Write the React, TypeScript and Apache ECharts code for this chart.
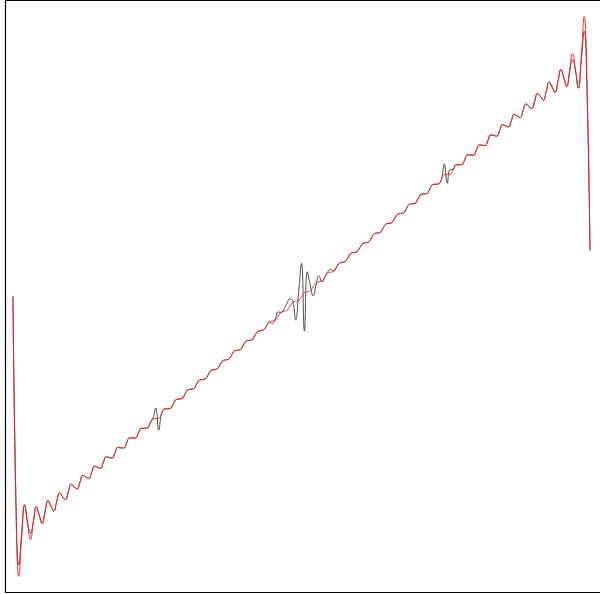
import { useEffect, useRef } from "react";
import * as echarts from "echarts";

// Partial-sum curve (red), left to right, equally spaced samples
const redSeries: number[] = [
  0, -2.710, -3.640, -3.121, -2.709, -2.953, -3.159, -2.935, -2.730, -2.846,
  -2.951, -2.799, -2.654, -2.724, -2.789, -2.669, -2.553, -2.602, -2.642, -2.539,
  -2.442, -2.475, -2.503, -2.412, -2.326, -2.348, -2.367, -2.285, -2.206, -2.221,
  -2.234, -2.158, -2.085, -2.094, -2.102, -2.031, -1.962, -1.968, -1.971, -1.904,
  -1.838, -1.841, -1.842, -1.777, -1.714, -1.714, -1.712, -1.650, -1.589, -1.587,
  -1.583, -1.523, -1.464, -1.460, -1.455, -1.396, -1.339, -1.333, -1.327, -1.269,
  -1.213, -1.206, -1.198, -1.142, -1.087, -1.079, -1.071, -1.016, -0.961, -0.952,
  -0.943, -0.889, -0.835, -0.825, -0.815, -0.762, -0.708, -0.698, -0.688, -0.635,
  -0.582, -0.571, -0.561, -0.508, -0.455, -0.444, -0.433, -0.381, -0.329, -0.317,
  -0.306, -0.254, -0.202, -0.190, -0.179, -0.127, -0.075, -0.063, -0.052, 0,
  0.052, 0.063, 0.075, 0.127, 0.179, 0.190, 0.202, 0.254, 0.306, 0.317,
  0.329, 0.381, 0.433, 0.444, 0.455, 0.508, 0.561, 0.571, 0.582, 0.635,
  0.688, 0.698, 0.708, 0.762, 0.815, 0.825, 0.835, 0.889, 0.943, 0.952,
  0.961, 1.016, 1.071, 1.079, 1.087, 1.142, 1.198, 1.206, 1.213, 1.269,
  1.327, 1.333, 1.339, 1.396, 1.455, 1.460, 1.464, 1.523, 1.583, 1.587,
  1.589, 1.650, 1.712, 1.714, 1.714, 1.777, 1.842, 1.841, 1.838, 1.904,
  1.971, 1.968, 1.962, 2.031, 2.102, 2.094, 2.085, 2.158, 2.234, 2.221,
  2.206, 2.285, 2.367, 2.348, 2.326, 2.412, 2.503, 2.475, 2.442, 2.539,
  2.642, 2.602, 2.553, 2.669, 2.789, 2.724, 2.654, 2.799, 2.951, 2.846,
  2.730, 2.935, 3.159, 2.953, 2.709, 3.121, 3.640, 2.710, 0.6,
];

// Second curve (black), same samples
const blackSeries: number[] = [
  0, -2.62, -3.49, -3.06, -2.709, -2.94, -3.08, -2.92, -2.74, -2.846,
  -2.951, -2.799, -2.654, -2.724, -2.789, -2.669, -2.553, -2.602, -2.642, -2.539,
  -2.442, -2.475, -2.503, -2.412, -2.326, -2.348, -2.367, -2.285, -2.206, -2.221,
  -2.234, -2.158, -2.085, -2.094, -2.102, -2.031, -1.962, -1.968, -1.971, -1.904,
  -1.838, -1.841, -1.842, -1.777, -1.714, -1.714, -1.712, -1.650, -1.589, -1.450,
  -1.736, -1.523, -1.464, -1.460, -1.455, -1.396, -1.339, -1.333, -1.327, -1.269,
  -1.213, -1.206, -1.198, -1.142, -1.087, -1.079, -1.071, -1.016, -0.961, -0.952,
  -0.943, -0.889, -0.835, -0.825, -0.815, -0.762, -0.708, -0.698, -0.688, -0.635,
  -0.582, -0.571, -0.561, -0.508, -0.455, -0.444, -0.433, -0.381, -0.329, -0.35,
  -0.29, -0.20, -0.21, -0.16, -0.09, -0.03, -0.06, -0.306, 0.05, 0.432,
  -0.449, 0.322, 0.15, 0.010, 0.15, 0.27, 0.19, 0.25, 0.32, 0.354,
  0.329, 0.381, 0.433, 0.444, 0.455, 0.508, 0.561, 0.571, 0.582, 0.635,
  0.688, 0.698, 0.708, 0.762, 0.815, 0.825, 0.835, 0.889, 0.943, 0.952,
  0.961, 1.016, 1.071, 1.079, 1.087, 1.142, 1.198, 1.206, 1.213, 1.269,
  1.327, 1.333, 1.339, 1.396, 1.455, 1.460, 1.464, 1.523, 1.723, 1.472,
  1.65, 1.650, 1.712, 1.714, 1.714, 1.777, 1.842, 1.841, 1.838, 1.904,
  1.971, 1.968, 1.962, 2.031, 2.102, 2.094, 2.085, 2.158, 2.234, 2.221,
  2.206, 2.285, 2.367, 2.348, 2.326, 2.412, 2.503, 2.475, 2.442, 2.539,
  2.642, 2.602, 2.553, 2.669, 2.789, 2.724, 2.654, 2.799, 2.951, 2.846,
  2.74, 2.92, 3.08, 2.94, 2.709, 3.06, 3.45, 2.62, 0.6,
];

const sampleIndex: string[] = redSeries.map((_, i) => String(i));

export default function App() {
  const ref = useRef<HTMLDivElement>(null);
  useEffect(() => {
    if (!ref.current) return;
    const chart = echarts.init(ref.current, null, { renderer: "svg" });
    chart.setOption({
      animation: false,
      backgroundColor: "#ffffff",
      grid: { left: 13, right: 10, top: 0, bottom: 1, show: false },
      xAxis: {
        type: "category",
        data: sampleIndex,
        boundaryGap: false,
        show: false,
      },
      yAxis: { type: "value", min: -3.856, max: 3.856, show: false },
      graphic: [
        {
          type: "rect",
          silent: true,
          z: 100,
          shape: { x: 5.5, y: 0.5, width: 620, height: 592 },
          style: { fill: "none", stroke: "#000000", lineWidth: 1.2 },
        },
      ],
      series: [
        {
          type: "line",
          data: blackSeries,
          showSymbol: false,
          smooth: true,
          silent: true,
          lineStyle: { color: "#1a1a1a", width: 0.9, opacity: 0.85 },
          itemStyle: { color: "#1a1a1a" },
        },
        {
          type: "line",
          data: redSeries,
          showSymbol: false,
          smooth: true,
          silent: true,
          lineStyle: { color: "#ff1a1a", width: 0.9, opacity: 1 },
          itemStyle: { color: "#ff1a1a" },
        },
      ],
    });
    return () => chart.dispose();
  }, []);
  return (
    <div
      ref={ref}
      style={{ position: "absolute", left: 0, top: 0, width: 600, height: 594 }}
    />
  );
}
